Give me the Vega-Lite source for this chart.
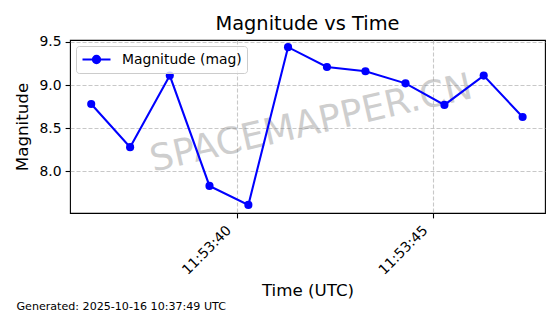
{
  "$schema": "https://vega.github.io/schema/vega-lite/v6.json",
  "background": "white",
  "padding": {"left": 13, "top": 13, "right": 14, "bottom": 0},
  "config": {
    "font": "DejaVu Sans",
    "view": {"stroke": "black", "strokeWidth": 1.1},
    "axis": {
      "labelColor": "black",
      "labelFontSize": 13.9,
      "titleColor": "black",
      "titleFontSize": 16.7,
      "titleFontWeight": "normal",
      "tickColor": "black",
      "tickSize": 4.9,
      "tickWidth": 1.1,
      "domain": false,
      "grid": true,
      "gridColor": "#b0b0b0",
      "gridOpacity": 0.7,
      "gridDash": [4, 2],
      "gridWidth": 1.1
    }
  },
  "title": {
    "text": "Generated: 2025-10-16 10:37:49 UTC",
    "orient": "bottom",
    "anchor": "start",
    "frame": "bounds",
    "fontSize": 11.1,
    "fontWeight": "normal",
    "color": "black",
    "offset": 1,
    "dx": 3
  },
  "vconcat": [
    {
      "title": {
        "text": "Magnitude vs Time",
        "fontSize": 19.4,
        "fontWeight": "normal",
        "color": "black",
        "anchor": "middle",
        "frame": "group",
        "offset": 1
      },
      "width": 475,
      "height": 173,
      "data": {
        "values": [
          {"time": "2025-10-16T11:53:36.300Z", "magnitude": 8.78},
          {"time": "2025-10-16T11:53:37.290Z", "magnitude": 8.28},
          {"time": "2025-10-16T11:53:38.300Z", "magnitude": 9.11},
          {"time": "2025-10-16T11:53:39.310Z", "magnitude": 7.83},
          {"time": "2025-10-16T11:53:40.300Z", "magnitude": 7.61},
          {"time": "2025-10-16T11:53:41.310Z", "magnitude": 9.44},
          {"time": "2025-10-16T11:53:42.300Z", "magnitude": 9.21},
          {"time": "2025-10-16T11:53:43.280Z", "magnitude": 9.16},
          {"time": "2025-10-16T11:53:44.300Z", "magnitude": 9.02},
          {"time": "2025-10-16T11:53:45.290Z", "magnitude": 8.77},
          {"time": "2025-10-16T11:53:46.290Z", "magnitude": 9.11},
          {"time": "2025-10-16T11:53:47.280Z", "magnitude": 8.63}
        ]
      },
      "layer": [
        {
          "data": {"values": [{"watermark": "SPACEMAPPER.CN"}]},
          "mark": {
            "type": "text",
            "fontSize": 36.7,
            "color": "#808080",
            "opacity": 0.38,
            "angle": -13,
            "align": "center",
            "baseline": "middle"
          },
          "encoding": {
            "x": {"datum": {"year": 2025, "month": 10, "date": 16, "hours": 11, "minutes": 53, "seconds": 41, "milliseconds": 900, "utc": true}, "type": "temporal"},
            "y": {"datum": 8.55, "type": "quantitative"},
            "text": {"field": "watermark", "type": "nominal"}
          }
        },
        {
          "mark": {"type": "line", "strokeWidth": 2.08, "color": "#0000ff"},
          "encoding": {
            "x": {
              "field": "time",
              "type": "temporal",
              "scale": {
                "type": "utc",
                "domain": [
                  {"year": 2025, "month": 10, "date": 16, "hours": 11, "minutes": 53, "seconds": 35, "milliseconds": 760, "utc": true},
                  {"year": 2025, "month": 10, "date": 16, "hours": 11, "minutes": 53, "seconds": 47, "milliseconds": 850, "utc": true}
                ],
                "nice": false
              },
              "axis": {
                "title": "Time (UTC)",
                "values": [
                  {"year": 2025, "month": 10, "date": 16, "hours": 11, "minutes": 53, "seconds": 40, "utc": true},
                  {"year": 2025, "month": 10, "date": 16, "hours": 11, "minutes": 53, "seconds": 45, "utc": true}
                ],
                "format": "%H:%M:%S",
                "labelAngle": -45,
                "labelAlign": "right",
                "labelBaseline": "bottom",
                "labelPadding": 15,
                "labelOffset": -3,
                "labelFlush": false,
                "labelOverlap": false,
                "titlePadding": 6
              }
            },
            "y": {
              "field": "magnitude",
              "type": "quantitative",
              "scale": {"domain": [7.516, 9.523], "nice": false, "zero": false},
              "axis": {
                "title": "Magnitude",
                "values": [8.0, 8.5, 9.0, 9.5],
                "format": ".1f",
                "labelPadding": 4,
                "titlePadding": 8
              }
            }
          }
        },
        {
          "mark": {"type": "point", "filled": true, "size": 66, "opacity": 1, "color": "#0000ff"},
          "encoding": {
            "x": {"field": "time", "type": "temporal"},
            "y": {"field": "magnitude", "type": "quantitative"},
            "color": {
              "datum": "Magnitude (mag)",
              "type": "nominal",
              "scale": {"range": ["#0000ff"]},
              "legend": {
                "title": null,
                "orient": "top-left",
                "offset": 6,
                "padding": 5,
                "fillColor": "rgba(255,255,255,0.8)",
                "strokeColor": "#cccccc",
                "cornerRadius": 3,
                "labelFontSize": 13.9,
                "labelColor": "black",
                "labelOffset": 17,
                "symbolOffset": 7,
                "symbolType": "M-2,0L2,0M-0.52,0A0.52,0.52,0,1,1,0.52,0A0.52,0.52,0,1,1,-0.52,0Z",
                "symbolSize": 196,
                "symbolStrokeWidth": 2.08,
                "symbolFillColor": "#0000ff",
                "symbolStrokeColor": "#0000ff",
                "encode": {
                  "symbols": {
                    "update": {
                      "fill": {"value": "#0000ff"},
                      "stroke": {"value": "#0000ff"},
                      "strokeWidth": {"value": 2.08},
                      "opacity": {"value": 1}
                    }
                  }
                }
              }
            }
          }
        }
      ]
    }
  ]
}
